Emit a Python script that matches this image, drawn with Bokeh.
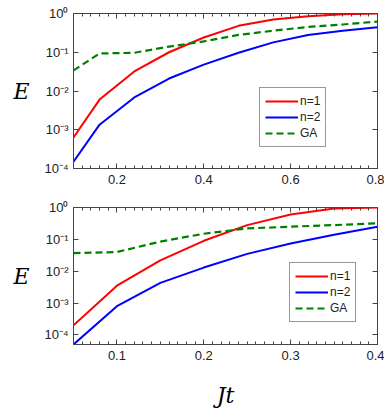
from bokeh.plotting import figure
from bokeh.layouts import column
from bokeh.models import (LinearAxis, LogAxis, Range1d, FixedTicker, CustomJSTickFormatter,
                          Legend, LegendItem)
from bokeh.embed import file_html
from bokeh.resources import INLINE

# ---- data: top panel ----
x_top = [0.10, 0.16, 0.24, 0.32, 0.40, 0.48, 0.56, 0.64, 0.72, 0.80]
n1_top = [6.3e-4, 6.0e-3, 0.032, 0.10, 0.24, 0.48, 0.70, 0.85, 0.95, 1.0]
n2_top = [1.5e-4, 1.35e-3, 6.8e-3, 0.021, 0.048, 0.097, 0.18, 0.28, 0.36, 0.44]
ga_top = [0.034, 0.093, 0.097, 0.14, 0.19, 0.28, 0.36, 0.45, 0.52, 0.62]

# ---- data: bottom panel ----
x_bot = [0.05, 0.10, 0.15, 0.20, 0.25, 0.30, 0.35, 0.40]
n1_bot = [2.0e-4, 3.5e-3, 0.022, 0.09, 0.28, 0.60, 0.93, 1.0]
n2_bot = [5.0e-5, 8.0e-4, 4.3e-3, 0.013, 0.035, 0.074, 0.14, 0.25]
ga_bot = [0.037, 0.040, 0.085, 0.15, 0.22, 0.25, 0.28, 0.32]

series_labels = ["n=1", "n=2", "GA"]
y_ticks = [1e-4, 1e-3, 1e-2, 1e-1, 1.0]
x_ticks_top = [0.2, 0.4, 0.6, 0.8]
x_ticks_bot = [0.1, 0.2, 0.3, 0.4]

AX = "#444444"
TXT = "#222222"
SANS = "Liberation Sans"

sup_fmt = CustomJSTickFormatter(code="""
const sup = {"-":"\u207b","0":"\u2070","1":"\u00b9","2":"\u00b2","3":"\u00b3","4":"\u2074","5":"\u2075"};
const e = Math.round(Math.log10(tick));
return "10" + String(e).split("").map(c => sup[c]).join("");
""")
blank_fmt = CustomJSTickFormatter(code="return '';")


def style_axis(ax):
    ax.axis_line_color = AX
    ax.axis_line_width = 1
    ax.major_tick_line_color = AX
    ax.minor_tick_line_color = AX
    ax.major_tick_in = 5
    ax.major_tick_out = 0
    ax.minor_tick_in = 3
    ax.minor_tick_out = 0
    ax.major_label_text_font = SANS
    ax.major_label_text_font_size = "13px"
    ax.major_label_text_color = TXT
    ax.major_label_standoff = 6


def make_panel(x, n1, n2, ga, xr, yr, xticks, xstep_minor, height, top, bottom, show_xlabel):
    p = figure(width=384, height=height, x_range=Range1d(*xr), y_range=Range1d(*yr),
               y_axis_type="log", output_backend="svg", toolbar_location=None,
               min_border_left=73, min_border_right=7, min_border_top=top,
               min_border_bottom=bottom)
    p.grid.visible = False
    p.outline_line_color = AX
    p.background_fill_color = "white"

    r1 = p.line(x, n1, line_color="#ff0000", line_width=2)
    r2 = p.line(x, n2, line_color="#0000ff", line_width=2)
    r3 = p.line(x, ga, line_color="#008000", line_width=2.2, line_dash="7 4")

    nminor = int(round((xr[1] - xr[0]) / xstep_minor))
    xt = FixedTicker(ticks=xticks,
                     minor_ticks=[round(xr[0] + i * xstep_minor, 4) for i in range(nminor + 1)])
    yt = FixedTicker(ticks=y_ticks, minor_ticks=[])

    xa = p.xaxis[0]
    xa.ticker = xt
    style_axis(xa)
    ya = p.yaxis[0]
    ya.ticker = yt
    ya.formatter = sup_fmt
    style_axis(ya)
    ya.major_label_standoff = 5
    ya.axis_label = "E"
    ya.axis_label_orientation = "horizontal"
    ya.axis_label_text_font = "DejaVu Serif"
    ya.axis_label_text_font_style = "italic"
    ya.axis_label_text_font_size = "22px"
    ya.axis_label_text_color = "black"
    ya.axis_label_standoff = 12
    if show_xlabel:
        xa.axis_label = "Jt"
        xa.axis_label_text_font = "DejaVu Serif"
        xa.axis_label_text_font_style = "italic"
        xa.axis_label_text_font_size = "22px"
        xa.axis_label_text_color = "black"
        xa.axis_label_standoff = 20

    ta = LinearAxis(ticker=xt, formatter=blank_fmt)
    style_axis(ta)
    ta.major_label_text_font_size = "0px"
    ta.major_label_standoff = 0
    p.add_layout(ta, "above")
    ra = LogAxis(ticker=yt, formatter=blank_fmt)
    style_axis(ra)
    ra.major_label_text_font_size = "0px"
    ra.major_label_standoff = 0
    p.add_layout(ra, "right")

    return p, [r1, r2, r3]


p1, rs1 = make_panel(x_top, n1_top, n2_top, ga_top, (0.1, 0.8), (1e-4, 1.0),
                     x_ticks_top, 0.02, 195, 13, 27, False)
p2, rs2 = make_panel(x_bot, n1_bot, n2_bot, ga_bot, (0.05, 0.4), (5e-5, 1.0),
                     x_ticks_bot, 0.01, 215, 12, 47, True)


def add_legend(p, rs, loc):
    lg = Legend(items=[LegendItem(label=l, renderers=[r]) for l, r in zip(series_labels, rs)],
                location=loc)
    lg.border_line_color = "#333333"
    lg.border_line_width = 1
    lg.background_fill_alpha = 1
    lg.label_text_font = SANS
    lg.label_text_font_size = "12px"
    lg.label_text_color = TXT
    lg.glyph_width = 33
    lg.glyph_height = 16
    lg.label_height = 16
    lg.label_standoff = 2
    lg.spacing = 0
    lg.padding = 5
    lg.margin = 0
    p.add_layout(lg, "center")


add_legend(p1, rs1, (186, 21))
add_legend(p2, rs2, (216, 22))

layout = column(p1, p2, spacing=0)
open("out.html", "w").write(file_html(layout, INLINE))
